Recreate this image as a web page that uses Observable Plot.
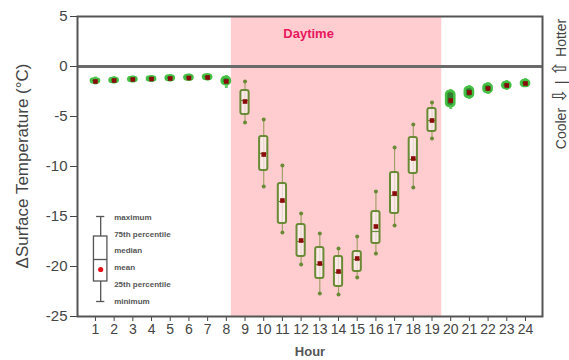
<!DOCTYPE html>
<html>
<head>
<meta charset="utf-8">
<script src="https://cdn.jsdelivr.net/npm/d3@7"></script>
<script src="https://cdn.jsdelivr.net/npm/@observablehq/plot@0.6"></script>
<style>
  html, body { margin: 0; padding: 0; background: #fff; }
  #chart { width: 569px; height: 360px; }
</style>
</head>
<body>
<div id="chart"></div>
<script>
// ---- data ----
const hours   = [1,2,3,4,5,6,7,8,9,10,11,12,13,14,15,16,17,18,19,20,21,22,23,24];
const minV    = [-1.85,-1.75,-1.65,-1.6,-1.55,-1.5,-1.45,-2.2,-5.6,-12.0,-16.6,-19.8,-22.7,-22.8,-21.1,-18.7,-15.9,-12.1,-7.2,-4.3,-3.3,-2.8,-2.4,-2.1];
const q1V     = [-1.65,-1.6,-1.5,-1.45,-1.4,-1.35,-1.3,-1.8,-4.8,-10.4,-15.7,-19.0,-21.2,-22.0,-20.5,-17.7,-14.7,-10.7,-6.5,-4.0,-3.1,-2.6,-2.2,-2.0];
const medV    = [-1.45,-1.4,-1.3,-1.25,-1.15,-1.1,-1.05,-1.45,-3.4,-8.7,-13.5,-17.5,-19.8,-20.6,-19.3,-16.5,-12.9,-9.3,-5.4,-3.3,-2.6,-2.2,-1.9,-1.7];
const meanV   = [-1.5,-1.4,-1.3,-1.25,-1.2,-1.15,-1.1,-1.5,-3.5,-8.8,-13.4,-17.4,-19.7,-20.5,-19.2,-16.0,-12.7,-9.2,-5.4,-3.4,-2.6,-2.2,-1.9,-1.7];
const q3V     = [-1.25,-1.2,-1.1,-1.05,-0.95,-0.9,-0.85,-1.1,-2.4,-7.0,-11.7,-15.8,-18.1,-19.0,-18.5,-14.5,-10.6,-7.1,-4.2,-2.5,-2.1,-1.8,-1.6,-1.4];
const maxV    = [-1.05,-1.0,-0.95,-0.9,-0.8,-0.75,-0.7,-0.9,-1.5,-5.3,-9.9,-14.7,-16.7,-18.2,-17.0,-12.5,-8.1,-5.8,-3.6,-2.3,-1.9,-1.6,-1.4,-1.2];
const daytimeHours = [9,10,11,12,13,14,15,16,17,18,19];

const xTicks = d3.range(1, 25);
const yTicks = [5, 0, -5, -10, -15, -20, -25];
const daytimeSpan = [{start: 8.27, end: 19.52, label: "Daytime", labelHour: 12.4, labelY: 3.3}];

// legend (explanatory box drawn in data space)
const legendBox = [{hour: 1.28, min: -23.5, q1: -21.5, median: -19.3, mean: -20.3, q3: -17.0, max: -15.0}];
const legendLabels = ["maximum", "75th percentile", "median", "mean", "25th percentile", "minimum"];
const legendLabelY = [-15.1, -16.75, -18.4, -20.1, -21.8, -23.5];
const legendLabelHour = 2.0;

const yLabel = "ΔSurface Temperature (°C)";
const xLabel = "Hour";
const sideParts = ["Cooler ", "⇩", " | ", "⇧", " Hotter"];

// ---- build table ----
const stats = hours.map((h, i) => ({
  hour: h, min: minV[i], q1: q1V[i], median: medV[i], mean: meanV[i], q3: q3V[i], max: maxV[i],
  day: daytimeHours.includes(h)
}));
const day = stats.filter(d => d.day);
const night = stats.filter(d => !d.day);
const legendRows = legendLabels.map((t, i) => ({text: t, y: legendLabelY[i]}));

const hw = 0.22; // half box width in hours
const dayStroke = "#6b8a35";
const nightStroke = "#45c045";

const W = 569, H = 360, mL = 77, mR = 27, mT = 16, mB = 44;

const chart = Plot.plot({
  width: W,
  height: H,
  marginLeft: mL,
  marginRight: mR,
  marginTop: mT,
  marginBottom: mB,
  style: {fontFamily: "'Liberation Sans', Arial, sans-serif", background: "#fff"},
  x: {type: "linear", domain: [0.04, 24.91]},
  y: {domain: [-25, 5]},
  marks: [
    // daytime band
    Plot.rect(daytimeSpan, {x1: "start", x2: "end", y1: -25, y2: 5, fill: "#ffcdd0"}),
    Plot.text(daytimeSpan, {x: "labelHour", y: "labelY", text: "label", fill: "#e8175d", fontWeight: "bold", fontSize: 13}),
    // zero line
    Plot.ruleY([0], {stroke: "#6a6a6a", strokeWidth: 3}),
    // axes
    Plot.axisX({ticks: xTicks, tickSize: 5, tickPadding: 3, fontSize: 14, color: "#444", label: null, tickFormat: d => String(d)}),
    Plot.axisY({ticks: yTicks, tickSize: 7, tickPadding: 3, fontSize: 15, color: "#444", label: null, tickFormat: d => String(d)}),
    // night boxes (green)
    Plot.ruleX(night, {x: "hour", y1: "min", y2: "max", stroke: nightStroke, strokeWidth: 3, strokeOpacity: 0.8}),
    Plot.rect(night, {x1: d => d.hour - hw, x2: d => d.hour + hw, y1: "q1", y2: "q3", fill: "#2f7f2f", stroke: nightStroke, strokeWidth: 2.5, rx: 3}),
    // day boxes (olive)
    Plot.ruleX(day, {x: "hour", y1: "min", y2: "max", stroke: "#a3a06a", strokeWidth: 1.2}),
    Plot.dot(day, {x: "hour", y: "min", r: 2, fill: dayStroke}),
    Plot.dot(day, {x: "hour", y: "max", r: 2, fill: dayStroke}),
    Plot.rect(day, {x1: d => d.hour - hw, x2: d => d.hour + hw, y1: "q1", y2: "q3", fill: "#fff3f3", fillOpacity: 0.7, stroke: dayStroke, strokeWidth: 2, rx: 2}),
    Plot.ruleY(day, {y: "median", x1: d => d.hour - hw, x2: d => d.hour + hw, stroke: dayStroke, strokeWidth: 1.2}),
    // means
    Plot.dot(stats, {x: "hour", y: "mean", symbol: "square", r: 2.6, fill: "#8b0a0a"}),
    // legend box
    Plot.ruleX(legendBox, {x: "hour", y1: "min", y2: "max", stroke: "#555", strokeWidth: 1.3}),
    Plot.ruleY(legendBox, {y: "min", x1: d => d.hour - 0.22, x2: d => d.hour + 0.22, stroke: "#555", strokeWidth: 1.3}),
    Plot.ruleY(legendBox, {y: "max", x1: d => d.hour - 0.22, x2: d => d.hour + 0.22, stroke: "#555", strokeWidth: 1.3}),
    Plot.rect(legendBox, {x1: d => d.hour - 0.36, x2: d => d.hour + 0.36, y1: "q1", y2: "q3", fill: "#fff", stroke: "#555", strokeWidth: 1.3}),
    Plot.ruleY(legendBox, {y: "median", x1: d => d.hour - 0.36, x2: d => d.hour + 0.36, stroke: "#555", strokeWidth: 1.3}),
    Plot.dot(legendBox, {x: "hour", y: "mean", r: 2.6, fill: "#e8101a"}),
    Plot.text(legendRows, {x: legendLabelHour, y: "y", text: "text", textAnchor: "start", fontSize: 8, fontWeight: "bold", fill: "#555"}),
    // frame
    Plot.frame({stroke: "#555", strokeWidth: 2}),
    // x title
    Plot.text([xLabel], {frameAnchor: "bottom", dy: 39, fontSize: 13, fontWeight: "bold", fill: "#555"})
  ]
});

// rotated titles added to the same SVG
const svg = d3.select(chart);
svg.append("text")
  .attr("transform", `translate(28,${(mT + H - mB) / 2}) rotate(-90)`)
  .attr("text-anchor", "middle")
  .attr("font-size", 17)
  .attr("fill", "#444")
  .attr("font-family", "'Liberation Sans', Arial, sans-serif")
  .text(yLabel);
const side = svg.append("text")
  .attr("transform", `translate(566,84) rotate(-90)`)
  .attr("text-anchor", "middle")
  .attr("font-size", 14)
  .attr("fill", "#444")
  .attr("font-family", "'Liberation Sans', Arial, sans-serif");
sideParts.forEach((p, i) => {
  const t = side.append("tspan").text(p);
  if (p === "⇩" || p === "⇧") t.attr("font-size", 19).attr("font-family", "'DejaVu Sans', sans-serif");
});

document.getElementById("chart").appendChild(chart);
</script>
</body>
</html>
